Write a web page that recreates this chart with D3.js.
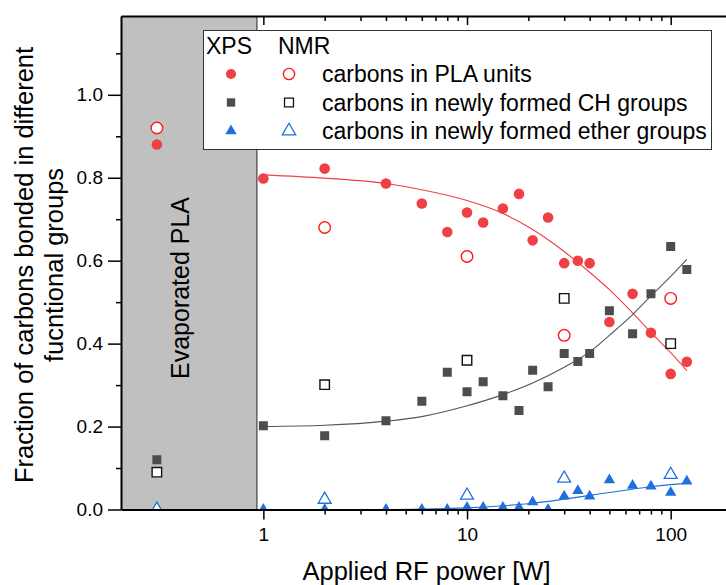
<!DOCTYPE html>
<html>
<head>
<meta charset="utf-8">
<script src="https://cdn.jsdelivr.net/npm/d3@7"></script>
<style>
  body { margin: 0; background: #fff; }
  svg { font-family: "Liberation Sans", Arial, sans-serif; }
</style>
</head>
<body>
<div id="chart"></div>
<script>
// XPS data (filled markers)
const powerXPS = [1, 2, 4, 6, 8, 10, 12, 15, 18, 21, 25, 30, 35, 40, 50, 65, 80, 100, 120];
const plaXPS   = [0.798, 0.822, 0.786, 0.738, 0.669, 0.716, 0.692, 0.726, 0.761, 0.649, 0.704, 0.594, 0.600, 0.594, 0.452, 0.520, 0.426, 0.327, 0.356];
const chXPS    = [0.202, 0.178, 0.214, 0.261, 0.331, 0.284, 0.308, 0.274, 0.239, 0.336, 0.296, 0.376, 0.357, 0.376, 0.479, 0.424, 0.520, 0.634, 0.579];
const etherXPS = [0, 0, 0, 0, 0, 0.005, 0.005, 0.005, 0.005, 0.018, 0, 0.032, 0.045, 0.032, 0.071, 0.058, 0.056, 0.041, 0.068];

// evaporated PLA reference (plotted at 0.3 W)
const powerEvap = [0.3];
const plaEvapXPS = [0.88];
const chEvapXPS = [0.12];

// NMR data (open markers)
const powerNMR = [0.3, 2, 10, 30, 100];
const plaNMR   = [0.92, 0.68, 0.61, 0.42, 0.509];
const chNMR    = [0.09, 0.301, 0.36, 0.509, 0.40];
const etherNMR = [0, 0.024, 0.034, 0.075, 0.084];

// fitted curves
const fitPower = [1, 2, 4, 6, 10, 15, 21, 30, 40, 50, 65, 80, 100, 120];
const fitPLA   = [0.807, 0.799, 0.786, 0.771, 0.745, 0.714, 0.675, 0.622, 0.572, 0.530, 0.474, 0.427, 0.378, 0.335];
const fitCH    = [0.200, 0.203, 0.213, 0.224, 0.250, 0.277, 0.305, 0.343, 0.380, 0.420, 0.470, 0.515, 0.562, 0.603];
const fitEther = [0, 0, 0, 0.001, 0.004, 0.009, 0.015, 0.025, 0.034, 0.041, 0.049, 0.055, 0.060, 0.063];

const yTicks = [0, 0.1, 0.2, 0.3, 0.4, 0.5, 0.6, 0.7, 0.8, 0.9, 1.0, 1.1];
const legendRows = ["carbons in PLA units", "carbons in newly formed CH groups", "carbons in newly formed ether groups"];

const RED = "#ef4046", GREY = "#4d4d4d", BLUE = "#1f6fdf";

const width = 726, height = 585;
const pLeft = 121, pRight = 732, pTop = 16, pBottom = 509.5;

const svg = d3.select("#chart").append("svg")
    .attr("width", width)
    .attr("height", height);

const x = d3.scaleLog().domain([0.2, 200]).range([pLeft, pRight]);
const y = d3.scaleLinear().domain([0, 1.19]).range([pBottom, pTop]);

svg.append("clipPath").attr("id", "plotclip")
  .append("rect")
    .attr("x", pLeft).attr("y", pTop)
    .attr("width", pRight - pLeft).attr("height", pBottom - pTop);

// grey "evaporated" band
svg.append("rect")
    .attr("x", x(0.2)).attr("y", y(1.19))
    .attr("width", x(0.93) - x(0.2))
    .attr("height", y(0) - y(1.19))
    .attr("fill", "#c0c0c0");
svg.append("line")
    .attr("x1", x(0.93)).attr("x2", x(0.93))
    .attr("y1", y(1.19)).attr("y2", y(0))
    .attr("stroke", "#222").attr("stroke-width", 1);

svg.append("text")
    .attr("transform", "translate(189,288) rotate(-90)")
    .attr("text-anchor", "middle")
    .attr("font-size", 25)
    .text("Evaporated PLA");

const plot = svg.append("g").attr("clip-path", "url(#plotclip)");

// fit lines
const line = d3.line()
    .x(d => x(d[0]))
    .y(d => y(d[1]))
    .curve(d3.curveMonotoneX);

[[fitPLA, RED], [fitCH, "#555"], [fitEther, BLUE]].forEach(([vals, col]) => {
    plot.append("path")
        .datum(fitPower.map((p, i) => [p, vals[i]]))
        .attr("d", line)
        .attr("fill", "none")
        .attr("stroke", col)
        .attr("stroke-width", 1.1);
});

function drawPoints(xs, ys, type, size, fill, stroke, sw) {
    plot.selectAll(null)
        .data(xs.map((p, i) => [p, ys[i]]))
        .enter()
        .append("path")
        .attr("transform", d => `translate(${x(d[0])},${y(d[1])})`)
        .attr("d", d3.symbol().type(type).size(size))
        .attr("fill", fill)
        .attr("stroke", stroke)
        .attr("stroke-width", sw);
}

// filled (XPS)
drawPoints(powerXPS, plaXPS, d3.symbolCircle, 88, RED, "none", 0);
drawPoints(powerEvap, plaEvapXPS, d3.symbolCircle, 88, RED, "none", 0);
drawPoints(powerXPS, chXPS, d3.symbolSquare, 81, GREY, "none", 0);
drawPoints(powerEvap, chEvapXPS, d3.symbolSquare, 81, GREY, "none", 0);
drawPoints(powerXPS, etherXPS, d3.symbolTriangle, 55, BLUE, "none", 0);
// open (NMR)
drawPoints(powerNMR, plaNMR, d3.symbolCircle, 105, "#fff", "#ff1a1a", 1.4);
drawPoints(powerNMR, chNMR, d3.symbolSquare, 90, "#fff", "#111", 1.4);
drawPoints(powerNMR, etherNMR, d3.symbolTriangle, 72, "#fff", BLUE, 1.3);

// axes
const xTickVals = x.ticks().filter(d => d >= 1 && d <= 200);
const isMajor = d => Math.abs(Math.log10(d) - Math.round(Math.log10(d))) < 1e-9;

const xAxis = svg.append("g")
    .attr("transform", `translate(0,${pBottom})`)
    .call(d3.axisBottom(x).tickValues(xTickVals).tickSizeOuter(0)
        .tickFormat(d => isMajor(d) ? d3.format("d")(d) : ""));
xAxis.selectAll(".tick line")
    .attr("y2", d => isMajor(d) ? 10 : 5)
    .attr("stroke-width", 1.5);
xAxis.selectAll(".tick text")
    .attr("y", 18)
    .attr("dy", "0.71em")
    .attr("font-size", 19)
    .attr("font-family", "Liberation Sans, Arial, sans-serif");

const xTop = svg.append("g")
    .attr("transform", `translate(0,${pTop})`)
    .call(d3.axisTop(x).tickValues(xTickVals).tickSizeOuter(0).tickFormat(""));
xTop.selectAll(".tick line")
    .attr("y2", d => isMajor(d) ? 9 : 5)
    .attr("stroke-width", 1.5);

const yAxis = svg.append("g")
    .attr("transform", `translate(${pLeft},0)`)
    .call(d3.axisLeft(y).tickValues(yTicks).tickSizeOuter(0)
        .tickFormat(d => Math.round(d * 10) % 2 === 0 ? d.toFixed(1) : ""));
yAxis.selectAll(".tick line")
    .attr("x2", d => Math.round(d * 10) % 2 === 0 ? -13 : -5)
    .attr("stroke-width", 1.5);
yAxis.selectAll(".tick text")
    .attr("x", -18)
    .attr("font-size", 19)
    .attr("font-family", "Liberation Sans, Arial, sans-serif");

[xAxis, xTop, yAxis].forEach(g => g.select(".domain").attr("stroke-width", 2));

// axis titles
svg.append("text")
    .attr("x", (pLeft + pRight) / 2)
    .attr("y", 580)
    .attr("text-anchor", "middle")
    .attr("font-size", 25.5)
    .text("Applied RF power [W]");

const yTitle = svg.append("text")
    .attr("transform", "translate(0,265) rotate(-90)")
    .attr("text-anchor", "middle")
    .attr("font-size", 25.5);
yTitle.append("tspan").attr("x", 0).attr("y", 33).text("Fraction of carbons bonded in different");
yTitle.append("tspan").attr("x", 0).attr("y", 63).text("fucntional groups");

// legend
const legend = svg.append("g");
legend.append("rect")
    .attr("x", 203.5).attr("y", 30.5)
    .attr("width", 508).attr("height", 119)
    .attr("fill", "#fff")
    .attr("stroke", "#333")
    .attr("stroke-width", 1);
legend.append("text").attr("x", 206).attr("y", 54).attr("font-size", 23).text("XPS");
legend.append("text").attr("x", 278).attr("y", 54).attr("font-size", 23).text("NMR");

const legendSym = [
    [d3.symbolCircle, 80, RED, "none", 0, d3.symbolCircle, 100, "#fff", "#ff1a1a", 1.4],
    [d3.symbolSquare, 70, GREY, "none", 0, d3.symbolSquare, 80, "#fff", "#111", 1.3],
    [d3.symbolTriangle, 55, BLUE, "none", 0, d3.symbolTriangle, 78, "#fff", BLUE, 1.3]
];
legendRows.forEach((label, i) => {
    const cy = 74 + i * 28.5;
    const s = legendSym[i];
    legend.append("path")
        .attr("transform", `translate(231,${cy})`)
        .attr("d", d3.symbol().type(s[0]).size(s[1]))
        .attr("fill", s[2]);
    legend.append("path")
        .attr("transform", `translate(289,${cy})`)
        .attr("d", d3.symbol().type(s[5]).size(s[6]))
        .attr("fill", s[7]).attr("stroke", s[8]).attr("stroke-width", s[9]);
    legend.append("text")
        .attr("x", 322).attr("y", cy + 8)
        .attr("font-size", 23)
        .text(label);
});
</script>
</body>
</html>
